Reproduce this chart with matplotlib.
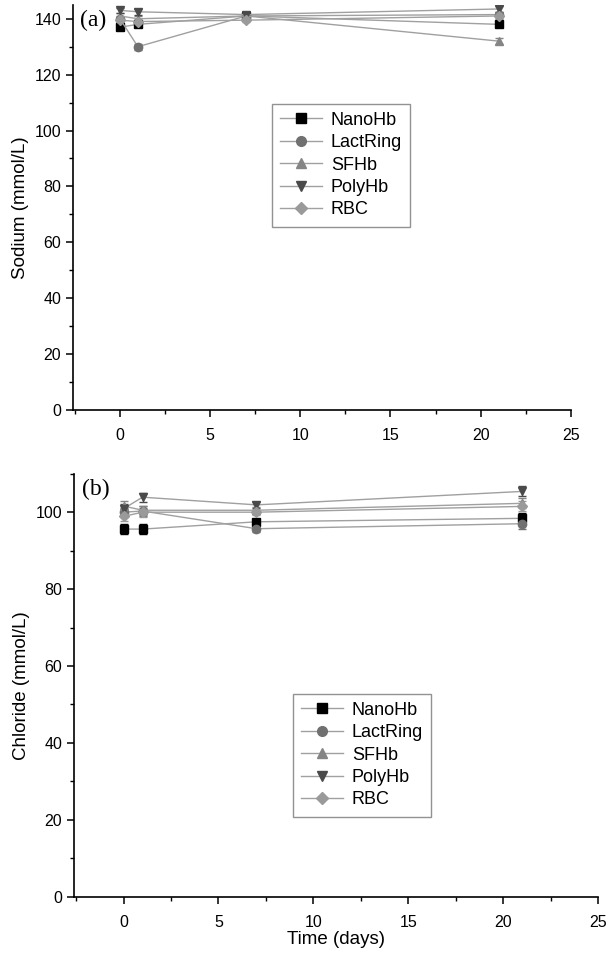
import numpy as np
import matplotlib
matplotlib.use("Agg")
import matplotlib.pyplot as plt
from matplotlib.ticker import MultipleLocator
from matplotlib.lines import Line2D

plt.rcParams['font.family'] = ['Liberation Sans', 'DejaVu Sans']

# dias de coleta
days = [0, 1, 7, 21]
series = ["NanoHb", "LactRing", "SFHb", "PolyHb", "RBC"]

# sodio (mmol/L)
sodium = {
    "NanoHb":   [137.0, 138.0, 141.0, 138.0],
    "LactRing": [140.0, 130.0, 141.0, 141.5],
    "SFHb":     [141.0, 140.0, 141.0, 132.0],
    "PolyHb":   [143.0, 142.5, 141.5, 143.5],
    "RBC":      [139.5, 139.0, 139.5, 141.0],
}
sodium_err = [1.0, 1.0, 0.8, 1.0]

# cloreto (mmol/L)
chloride = {
    "NanoHb":   [95.6, 95.6, 97.5, 98.4],
    "LactRing": [100.0, 100.3, 95.7, 97.0],
    "SFHb":     [101.6, 100.5, 100.5, 102.3],
    "PolyHb":   [100.9, 103.9, 101.9, 105.4],
    "RBC":      [98.9, 100.0, 100.0, 101.5],
}
chloride_err = [1.2, 1.2, 0.8, 1.3]

markers = {"NanoHb": "s", "LactRing": "o", "SFHb": "^", "PolyHb": "v", "RBC": "D"}
cores = {"NanoHb": "#000000", "LactRing": "#707070", "SFHb": "#858585",
         "PolyHb": "#4a4a4a", "RBC": "#9a9a9a"}


def painel(ax, dados, erro, ylim, ylabel, letra, leg_box, xlabel=None):
    handles = []
    for s in series:
        ms = 6 if markers[s] != "D" else 5.5
        ax.errorbar(days, dados[s], yerr=erro, color="#a0a0a0", lw=1.0,
                    marker=markers[s], mfc=cores[s], mec=cores[s], ms=ms,
                    ecolor=cores[s], elinewidth=0.8, capsize=3)
        handles.append(Line2D([], [], color="#a0a0a0", lw=1.0, marker=markers[s],
                              mfc=cores[s], mec=cores[s], ms=ms + 1, label=s))
    ax.set_xlim(-2.6, 25)
    ax.set_ylim(*ylim)
    ax.xaxis.set_major_locator(MultipleLocator(5))
    ax.xaxis.set_minor_locator(MultipleLocator(2.5))
    ax.yaxis.set_major_locator(MultipleLocator(20))
    ax.yaxis.set_minor_locator(MultipleLocator(10))
    ax.spines["top"].set_visible(False)
    ax.spines["right"].set_visible(False)
    for sp in ("left", "bottom"):
        ax.spines[sp].set_linewidth(1.2)
    ax.tick_params(which="major", direction="out", length=5, width=1.1, labelsize=11.5)
    ax.tick_params(which="minor", direction="out", length=3, width=1.0)
    ax.tick_params(axis="x", which="major", pad=8)
    ax.set_ylabel(ylabel, fontsize=13.5, labelpad=4)
    if xlabel:
        ax.set_xlabel(xlabel, fontsize=13.5, labelpad=1)
    ax.text(0.015, 0.988, letra, transform=ax.transAxes, family="Liberation Serif",
            fontsize=17, va="top", ha="left")
    leg = ax.legend(handles=handles, loc="upper left", bbox_to_anchor=leg_box,
                    borderaxespad=0, frameon=True, fancybox=False,
                    edgecolor="#777777", fontsize=13, handlelength=2.3,
                    labelspacing=0.3, borderpad=0.45, handletextpad=0.5)
    leg.get_frame().set_linewidth(1.0)


fig = plt.figure(figsize=(6.08, 9.58), dpi=100)
ax1 = fig.add_axes([0.120, 0.572, 0.819, 0.423])
ax2 = fig.add_axes([0.122, 0.064, 0.862, 0.4415])

painel(ax1, sodium, sodium_err, (0, 145), "Sodium (mmol/L)", "(a)", (0.40, 0.756))
painel(ax2, chloride, chloride_err, (0, 110), "Chloride (mmol/L)", "(b)", (0.418, 0.48),
       xlabel="Time (days)")

fig.savefig("out.png", dpi=100)
